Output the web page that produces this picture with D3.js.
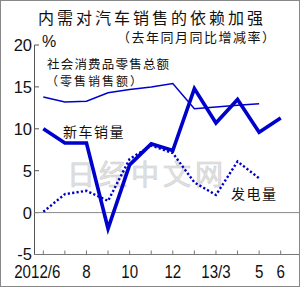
<!DOCTYPE html>
<html>
<head>
<meta charset="utf-8">
<script src="https://cdn.jsdelivr.net/npm/d3@7"></script>
<style>
  html, body { margin: 0; padding: 0; background: #fff; }
  svg { display: block; }
  .cjk { font-family: 'Noto Sans CJK SC', sans-serif; fill: #111; }
  .num { font-family: 'Liberation Sans', Arial, sans-serif; fill: #111; }
</style>
</head>
<body>
<div class="container"></div>
<script>
// months on the x axis (Jan-Feb 2013 is reported together)
const months = ['2012/6', '7', '8', '9', '10', '11', '12', '13/1-2', '13/3', '4', '5', '6'];
const tickLabels = { '2012/6': '2012/6', '8': '8', '10': '10', '12': '12', '13/3': '13/3', '5': '5', '6': '6' };
const yTicks = [-5, 0, 5, 10, 15, 20];

// year-on-year change, %
const newCarSales = [10.0, 8.3, 8.3, -1.9, 5.7, 8.2, 7.4, 14.8, 10.7, 13.5, 9.6, 11.3];
const retailSales = [13.8, 13.2, 13.3, 14.3, 14.7, 15.0, 15.4, 12.4, 12.6, 12.8, 13.0, null];
const powerOutput = [0.1, 2.2, 2.6, 1.4, 6.4, 8.0, 7.1, 3.6, 2.1, 6.1, 4.1, null];

const width = 300;
const height = 287;
const blue = '#0000cc';

const svg = d3
  .select('.container')
  .append('svg')
  .attr('width', width)
  .attr('height', height);

// frame round the picture
svg
  .append('rect')
  .attr('x', 0.5)
  .attr('y', 0.5)
  .attr('width', width - 1)
  .attr('height', height - 1)
  .attr('fill', 'none')
  .attr('stroke', '#888');

const xScale = d3.scalePoint().domain(months).range([43.3, 280.7]);
const yScale = d3.scaleLinear().domain([-5, 20]).range([254.5, 45]);

// watermark
svg
  .append('text')
  .attr('class', 'cjk')
  .attr('x', 67)
  .attr('y', 185)
  .style('font-size', '28px')
  .style('letter-spacing', '4px')
  .style('fill', '#e2e2e2')
  .style('stroke', '#d0d0d0')
  .style('stroke-width', 0.6)
  .text('日经中文网');

// title
svg
  .append('text')
  .attr('class', 'cjk')
  .attr('x', 38)
  .attr('y', 24)
  .style('font-size', '16px')
  .style('letter-spacing', '3px')
  .text('内需对汽车销售的依赖加强');
svg
  .append('text')
  .attr('class', 'cjk')
  .attr('x', 117)
  .attr('y', 42)
  .style('font-size', '13px')
  .style('letter-spacing', '1.5px')
  .text('（去年同月同比增减率）');

// y axis
const yAxis = svg.append('g').attr('id', 'y-axis');
yAxis
  .append('line')
  .attr('x1', 34.5)
  .attr('x2', 34.5)
  .attr('y1', yScale(20))
  .attr('y2', yScale(-5))
  .attr('stroke', '#555');
yAxis
  .selectAll('.ytick')
  .data(yTicks)
  .enter()
  .append('line')
  .attr('x1', 34.5)
  .attr('x2', 39)
  .attr('y1', (d) => yScale(d))
  .attr('y2', (d) => yScale(d))
  .attr('stroke', '#555');
yAxis
  .selectAll('.ylabel')
  .data(yTicks)
  .enter()
  .append('text')
  .attr('class', 'num')
  .attr('x', 32)
  .attr('y', (d) => yScale(d))
  .attr('dy', '0.36em')
  .attr('text-anchor', 'end')
  .style('font-size', '16.5px')
  .text((d) => d);
svg
  .append('text')
  .attr('class', 'num')
  .attr('x', 42)
  .attr('y', 47)
  .style('font-size', '16px')
  .text('%');

// zero line and bottom line
svg
  .append('line')
  .attr('x1', 34.5)
  .attr('x2', width - 1)
  .attr('y1', yScale(0))
  .attr('y2', yScale(0))
  .attr('stroke', '#888');

const xAxis = svg.append('g').attr('id', 'x-axis');
xAxis
  .append('line')
  .attr('x1', 34.5)
  .attr('x2', width - 1)
  .attr('y1', yScale(-5))
  .attr('y2', yScale(-5))
  .attr('stroke', '#777');
xAxis
  .selectAll('.xtick')
  .data(months)
  .enter()
  .append('line')
  .attr('x1', (d) => xScale(d))
  .attr('x2', (d) => xScale(d))
  .attr('y1', yScale(-5) - 4)
  .attr('y2', yScale(-5))
  .attr('stroke', '#777');
xAxis
  .selectAll('.xlabel')
  .data(months.filter((m) => tickLabels[m]))
  .enter()
  .append('text')
  .attr('class', 'num')
  .attr('text-anchor', 'middle')
  .attr('transform', (d) => {
    const dx = d === '2012/6' ? -6 : 0;
    return `translate(${xScale(d) + dx},${278}) scale(0.84,1)`;
  })
  .style('font-size', '18px')
  .text((d) => tickLabels[d]);

// lines
const line = d3
  .line()
  .defined((d) => d.v !== null)
  .x((d) => xScale(d.m))
  .y((d) => yScale(d.v));
const toPoints = (values) => values.map((v, i) => ({ m: months[i], v: v }));

svg
  .append('path')
  .datum(toPoints(retailSales))
  .attr('d', line)
  .attr('fill', 'none')
  .attr('stroke', blue)
  .attr('stroke-width', 1.5);

svg
  .append('path')
  .datum(toPoints(powerOutput))
  .attr('d', line)
  .attr('fill', 'none')
  .attr('stroke', blue)
  .attr('stroke-width', 2.4)
  .attr('stroke-dasharray', '2.2,2.2');

svg
  .append('path')
  .datum(toPoints(newCarSales))
  .attr('d', line)
  .attr('fill', 'none')
  .attr('stroke', blue)
  .attr('stroke-width', 3.6)
  .attr('stroke-linejoin', 'miter');

// series labels
svg
  .append('text')
  .attr('class', 'cjk')
  .attr('x', 47)
  .attr('y', 69)
  .style('font-size', '12.5px')
  .style('letter-spacing', '1.2px')
  .text('社会消费品零售总额');
svg
  .append('text')
  .attr('class', 'cjk')
  .attr('x', 46)
  .attr('y', 86)
  .style('font-size', '12px')
  .style('letter-spacing', '2px')
  .text('（零售销售额）');
svg
  .append('text')
  .attr('class', 'cjk')
  .attr('x', 63)
  .attr('y', 137)
  .style('font-size', '14px')
  .style('letter-spacing', '1.5px')
  .text('新车销量');
svg
  .append('text')
  .attr('class', 'cjk')
  .attr('x', 231)
  .attr('y', 199)
  .style('font-size', '14px')
  .style('letter-spacing', '1.5px')
  .text('发电量');
</script>
</body>
</html>
